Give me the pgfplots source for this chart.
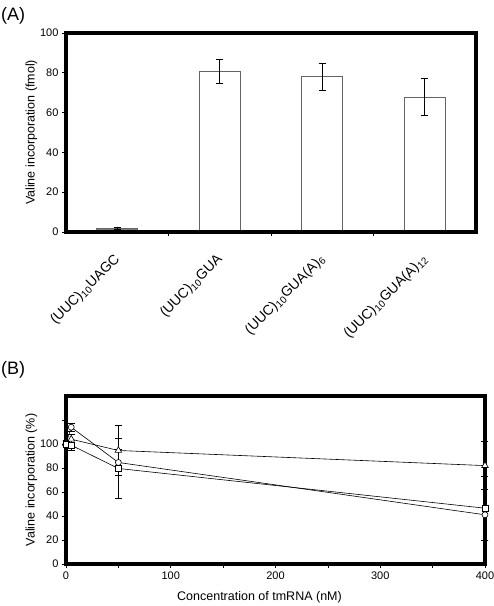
\documentclass[border=0pt]{standalone}
\usepackage{fontspec}
\setmainfont{Liberation Sans}
\usepackage{pgfplots}
\pgfplotsset{compat=1.18}
\definecolor{barfill}{RGB}{128,128,128}
\definecolor{baredge}{RGB}{100,100,100}
\pgfplotsset{
  lineplot/.style={black, line width=0.6pt, mark options={fill=white, solid},
    error bars/y dir=both, error bars/y explicit,
    error bars/error bar style={black, line width=0.6pt},
    error bars/error mark options={rotate=90, mark size=3.5pt, black, line width=0.6pt}},
}
\begin{document}
\begin{tikzpicture}
\useasboundingbox (0pt,0pt) rectangle (494pt,606pt);
\node[anchor=west,inner sep=0pt,font=\fontsize{18}{20}\selectfont] at (1pt,590pt) {(A)};
\node[anchor=west,inner sep=0pt,font=\fontsize{18}{20}\selectfont] at (1pt,236pt) {(B)};
\begin{axis}[
  at={(66pt,374pt)}, anchor=south west, scale only axis,
  width=410pt, height=199pt,
  xmin=-0.5, xmax=3.5, ymin=0, ymax=100,
  axis line style={draw=none},
  ytick={0,20,...,100},
  xtick={0,1,2,3},
  xticklabels={(UUC)\textsubscript{10}UAGC,(UUC)\textsubscript{10}GUA,(UUC)\textsubscript{10}GUA(A)\textsubscript{6},(UUC)\textsubscript{10}GUA(A)\textsubscript{12}},
  minor xtick={0.5,1.5,2.5},
  major x tick style={draw=none},
  xtick pos=bottom, ytick pos=left,
  tick align=outside,
  major tick length=4pt, minor tick length=4pt,
  tick style={black, line width=0.6pt},
  xticklabel style={xshift=3pt, yshift=-19pt, rotate=45, anchor=east, font=\fontsize{14}{16}\selectfont},
  yticklabel style={font=\fontsize{11}{13}\selectfont},
  /pgf/number format/assume math mode=true,
  ylabel={Valine incorporation (fmol)},
  ylabel style={font=\fontsize{12.5}{14}\selectfont},
  ylabel shift=-4pt,
  clip=false,
]
\addplot[ybar, bar shift=0pt, bar width=0.4, fill=barfill, draw=baredge, line width=0.8pt,
  error bars/.cd, y dir=both, y explicit,
  error bar style={black, line width=0.8pt},
  error mark options={rotate=90, mark size=3.5pt, black, line width=0.8pt}]
  coordinates {(0,1.8) +- (0,0.6)};
\addplot[ybar, bar shift=0pt, bar width=0.4, fill=white, draw=baredge, line width=0.8pt,
  error bars/.cd, y dir=both, y explicit,
  error bar style={black, line width=0.8pt},
  error mark options={rotate=90, mark size=3.5pt, black, line width=0.8pt}]
  coordinates {(1,80.8) +- (0,6) (2,78) +- (0,6.8) (3,67.8) +- (0,9.4)};
\draw[draw=black, line width=3.2pt, line join=miter] (rel axis cs:0,0) rectangle (rel axis cs:1,1);
\end{axis}
\begin{axis}[
  at={(66pt,42pt)}, anchor=south west, scale only axis,
  width=419pt, height=168pt,
  xmin=0, xmax=400, ymin=0, ymax=140,
  axis line style={draw=none},
  ytick={0,20,...,120},
  yticklabels={0,20,40,60,80,100,{}},
  xtick={0,100,...,400},
  minor xtick={50,150,250,350},
  xtick pos=bottom, ytick pos=left,
  tick align=outside,
  major tick length=4pt, minor tick length=4pt,
  tick style={black, line width=0.6pt},
  xticklabel style={font=\fontsize{11}{13}\selectfont},
  yticklabel style={font=\fontsize{11}{13}\selectfont},
  /pgf/number format/assume math mode=true,
  xlabel={Concentration of tmRNA (nM)},
  ylabel={Valine incorporation (\%)},
  xlabel style={font=\fontsize{12.5}{14}\selectfont, xshift=-16pt, yshift=-5pt},
  ylabel style={font=\fontsize{12.5}{14}\selectfont},
  ylabel shift=-4pt,
  clip=false,
]
\addplot[lineplot, mark=triangle*, mark size=3.8pt]
  coordinates {(0,100.5) +- (0,3) (5,104) +- (0,4) (50,94.6) +- (0,21) (400,82) +- (0,20)};
\addplot[lineplot, mark=*, mark size=3pt]
  coordinates {(0,100) +- (0,3) (5,114) +- (0,3.5) (50,84.6) +- (0,11) (400,41) +- (0,21)};
\addplot[lineplot, mark=square*, mark size=3pt]
  coordinates {(0,100) +- (0,3) (5,99) +- (0,4.5) (50,79.6) +- (0,25) (400,46.5) +- (0,27)};
\draw[draw=black, line width=3.2pt, line join=miter] (rel axis cs:0,0) rectangle (rel axis cs:1,1);
\end{axis}
\end{tikzpicture}
\end{document}
